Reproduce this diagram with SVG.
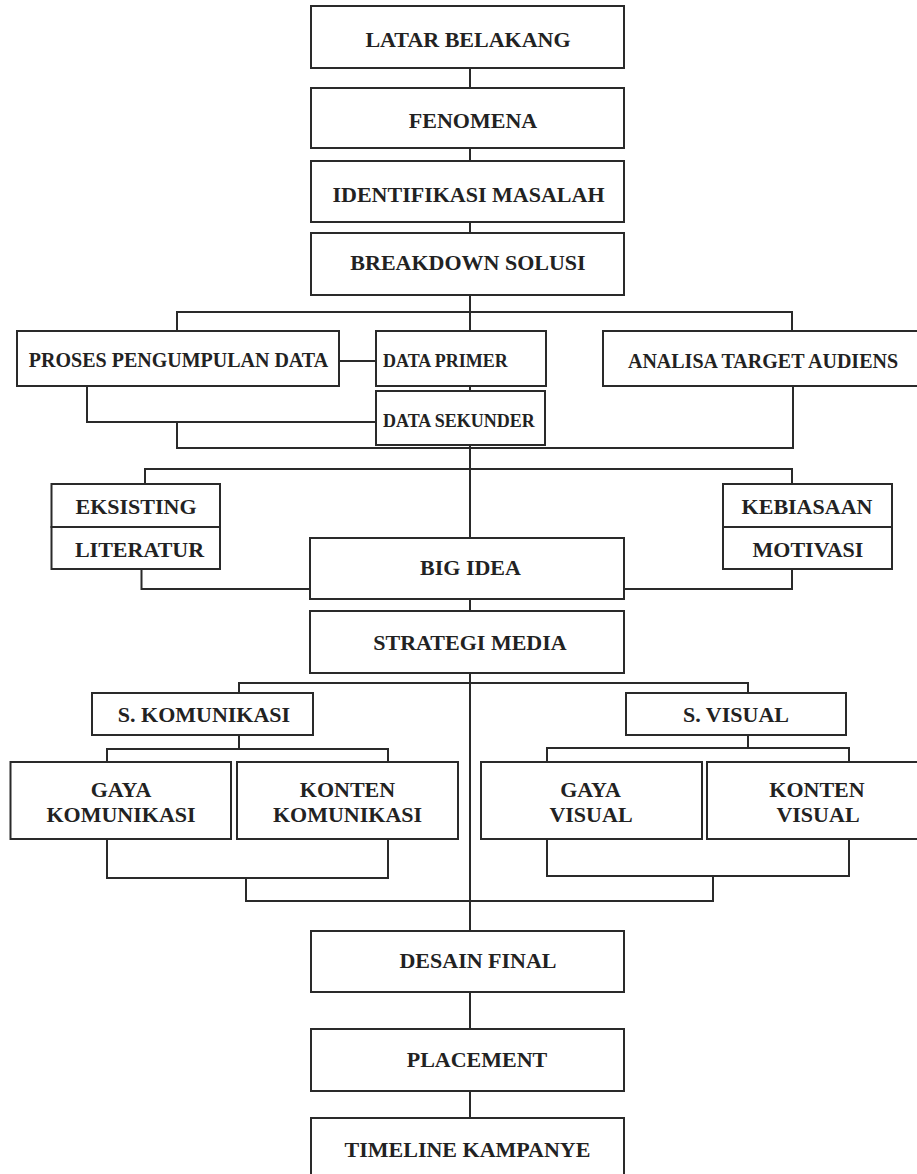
<svg xmlns="http://www.w3.org/2000/svg" width="917" height="1174" viewBox="0 0 917 1174">
<style>
.box{fill:#fff;stroke:#2a2a2a;stroke-width:2}
.c{fill:none;stroke:#2a2a2a;stroke-width:2}
text{font-family:"Liberation Serif","Times New Roman",serif;font-weight:bold;font-size:22px;fill:#222;text-anchor:middle}
.m{font-size:20px}
.s{font-size:18px;text-anchor:start}
</style>
<rect width="917" height="1174" fill="#fff"/>
<g id="connectors">
<path class="c" d="M470,68V88M470,148V161M470,222V233M470,295V312"/>
<path class="c" d="M177,331V312H792V331M470,312V331"/>
<path class="c" d="M339,361H376M470,386V391"/>
<path class="c" d="M87,386V422H376"/>
<path class="c" d="M177,422V448H793V386"/>
<path class="c" d="M470,445V538"/>
<path class="c" d="M145,484V469H792V484"/>
<path class="c" d="M141.5,569V589H310M792,569V589H624"/>
<path class="c" d="M470,599V611M470,673V931"/>
<path class="c" d="M239,693V683H748V693"/>
<path class="c" d="M239,735V749M107,762V749H388V762"/>
<path class="c" d="M748,735V748M547,762V748H849V762"/>
<path class="c" d="M107,839V878H388V839M547,839V876H849V839"/>
<path class="c" d="M246,878V901H713V876"/>
<path class="c" d="M470,992V1029M470,1091V1118"/>
</g>
<g id="latar"><rect class="box" x="311" y="6" width="313" height="62"/><text x="468" y="46.5">LATAR BELAKANG</text></g>
<g id="fenomena"><rect class="box" x="311" y="88" width="313" height="60"/><text x="473" y="128">FENOMENA</text></g>
<g id="identifikasi"><rect class="box" x="311" y="161" width="313" height="61"/><text x="468.5" y="202">IDENTIFIKASI MASALAH</text></g>
<g id="breakdown"><rect class="box" x="311" y="233" width="313" height="62"/><text x="468" y="270">BREAKDOWN SOLUSI</text></g>
<g id="proses"><rect class="box" x="17" y="331" width="322" height="55"/><text class="m" x="178.5" y="367">PROSES PENGUMPULAN DATA</text></g>
<g id="primer"><rect class="box" x="376" y="331" width="170" height="55"/><text class="s" x="383" y="367">DATA PRIMER</text></g>
<g id="sekunder"><rect class="box" x="376" y="391" width="169" height="54"/><text class="s" x="383" y="427">DATA SEKUNDER</text></g>
<g id="analisa"><rect class="box" x="603" y="331" width="330" height="55"/><text class="m" x="763" y="368">ANALISA TARGET AUDIENS</text></g>
<g id="eksisting"><rect class="box" x="51.5" y="484" width="168.5" height="43"/><text x="136" y="514">EKSISTING</text></g>
<g id="literatur"><rect class="box" x="51.5" y="527" width="168.5" height="42"/><text x="139.5" y="557">LITERATUR</text></g>
<g id="kebiasaan"><rect class="box" x="723" y="484" width="169" height="43"/><text x="807" y="514">KEBIASAAN</text></g>
<g id="motivasi"><rect class="box" x="723" y="527" width="169" height="42"/><text x="808" y="557">MOTIVASI</text></g>
<g id="bigidea"><rect class="box" x="310" y="538" width="314" height="61"/><text x="470.5" y="575">BIG IDEA</text></g>
<g id="strategi"><rect class="box" x="310" y="611" width="314" height="62"/><text x="470" y="650">STRATEGI MEDIA</text></g>
<g id="skomunikasi"><rect class="box" x="92" y="693" width="221" height="42"/><text x="204" y="722">S. KOMUNIKASI</text></g>
<g id="svisual"><rect class="box" x="626" y="693" width="220" height="42"/><text x="736" y="722">S. VISUAL</text></g>
<g id="gayakom"><rect class="box" x="10.5" y="762" width="220.5" height="77"/><text x="121" y="797">GAYA</text><text x="121" y="822">KOMUNIKASI</text></g>
<g id="kontenkom"><rect class="box" x="237" y="762" width="221" height="77"/><text x="347.5" y="797">KONTEN</text><text x="347.5" y="822">KOMUNIKASI</text></g>
<g id="gayavis"><rect class="box" x="481" y="762" width="221" height="77"/><text x="590.5" y="797">GAYA</text><text x="591" y="822">VISUAL</text></g>
<g id="kontenvis"><rect class="box" x="707" y="762" width="230" height="77"/><text x="817" y="797">KONTEN</text><text x="818" y="822">VISUAL</text></g>
<g id="desain"><rect class="box" x="311" y="931" width="313" height="61"/><text x="478" y="968">DESAIN FINAL</text></g>
<g id="placement"><rect class="box" x="311" y="1029" width="313" height="62"/><text x="477" y="1067">PLACEMENT</text></g>
<g id="timeline"><rect class="box" x="311" y="1118" width="313" height="80"/><text x="467.5" y="1157">TIMELINE KAMPANYE</text></g>
</svg>
